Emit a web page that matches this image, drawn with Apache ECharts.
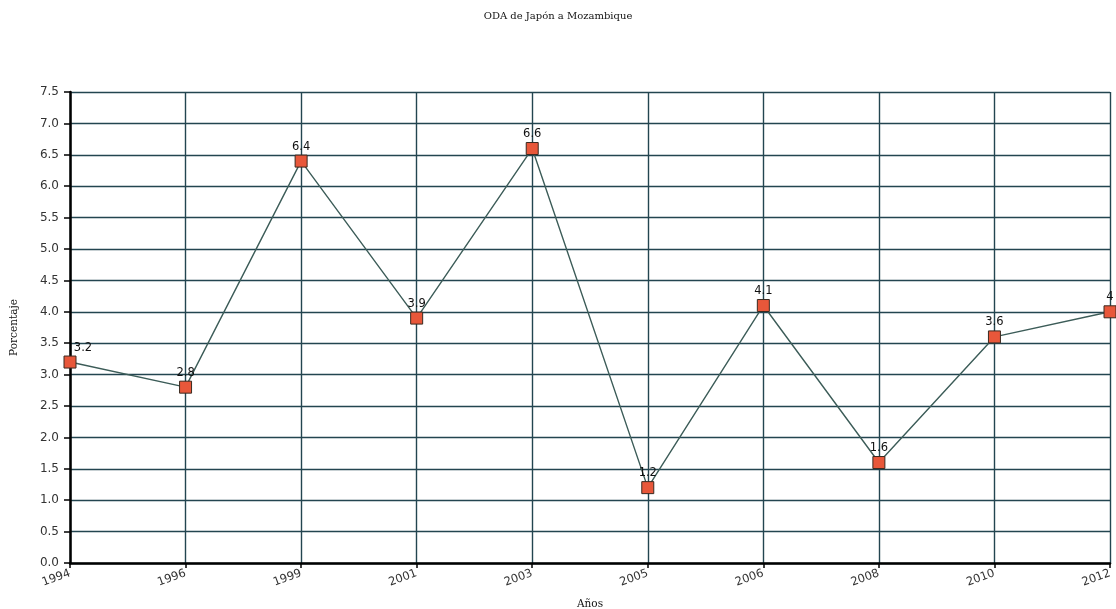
<!DOCTYPE html>
<html><head><meta charset="utf-8">
<script src="https://cdn.jsdelivr.net/npm/echarts@6/dist/echarts.min.js"></script>
<style>html,body{margin:0;padding:0;background:#fff}#c{width:1116px;height:609px}</style>
</head><body><div id="c"></div>
<script>
const years = ['1994','1996','1999','2001','2003','2005','2006','2008','2010','2012'];
const values = [3.2, 2.8, 6.4, 3.9, 6.6, 1.2, 4.1, 1.6, 3.6, 4];
const chart = echarts.init(document.getElementById('c'));
chart.setOption({
  backgroundColor:'#fff',
  animation:false,
  title:{text:'ODA de Japón a Mozambique',left:'center',top:6,
    textStyle:{fontFamily:'DejaVu Serif',fontSize:10,fontWeight:'normal',color:'#111'}},
  grid:{left:70,right:6,top:92,bottom:46,containLabel:false,outerBoundsMode:'none'},
  xAxis:{type:'category',data:years,boundaryGap:false,
    name:'Años',nameLocation:'middle',nameGap:36,
    nameTextStyle:{fontFamily:'DejaVu Serif',fontSize:10.5,color:'#111'},
    axisLine:{lineStyle:{color:'#000',width:2.5}},
    axisTick:{show:true,length:5,lineStyle:{color:'#000',width:1.5}},
    axisLabel:{rotate:20,fontFamily:'DejaVu Sans',fontSize:11.5,color:'#333',margin:10},
    splitLine:{show:true,lineStyle:{color:'#234550',width:1.4}}},
  yAxis:{type:'value',min:0,max:7.5,interval:0.5,
    name:'Porcentaje',nameLocation:'middle',nameGap:50,nameRotate:90,
    nameTextStyle:{fontFamily:'DejaVu Serif',fontSize:10.5,color:'#111'},
    axisLine:{show:true,lineStyle:{color:'#000',width:2.5}},
    axisTick:{show:true,length:6,lineStyle:{color:'#000',width:1.5}},
    axisLabel:{formatter:v=>v.toFixed(1),fontFamily:'DejaVu Sans',fontSize:12,color:'#333',margin:11},
    splitLine:{lineStyle:{color:'#234550',width:1.4}}},
  series:[{type:'line',data:values,symbol:'rect',symbolSize:12,
    lineStyle:{color:'#3c5c58',width:1.4},
    itemStyle:{color:'#e8573a',borderColor:'#3a2a20',borderWidth:1},
    label:{show:true,position:'top',distance:2,fontFamily:'DejaVu Sans',fontSize:11.5,color:'#111',
      formatter:p=>String(p.value)},
    labelLayout:function(p){ return p.dataIndex===0 ? {dx:13} : {}; }}]
});
</script></body></html>
